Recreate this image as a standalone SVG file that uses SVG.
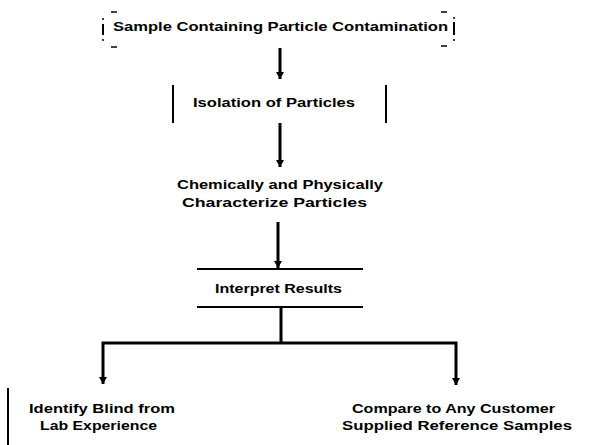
<svg xmlns="http://www.w3.org/2000/svg" width="594" height="445" viewBox="0 0 594 445">
<style>
  text { font-family: "Liberation Sans", Arial, sans-serif; font-weight: bold; fill: #000; text-anchor: middle; }
  .t13 { font-size: 13px; }
  .t12 { font-size: 12px; }
  .edge { stroke: #000; stroke-width: 3; fill: none; }
  .bar { stroke: #000; stroke-width: 2; fill: none; }
  .dash { stroke: #000; stroke-width: 1.5; fill: none; }
</style>
<defs>
  <marker id="ah" markerUnits="userSpaceOnUse" markerWidth="10" markerHeight="10" refX="9" refY="5" orient="auto-start-reverse" viewBox="0 0 10 10">
    <path d="M2,1 L9,5 L2,9 Z" fill="#000"/>
  </marker>
</defs>
<rect width="594" height="445" fill="#fff"/>

<g id="node-sample">
  <line class="bar" x1="103" y1="24" x2="103" y2="35"/>
  <circle cx="103" cy="19" r="1" fill="#000"/>
  <circle cx="103" cy="40" r="1" fill="#000"/>
  <line class="dash" x1="111" y1="12" x2="117" y2="12"/>
  <line class="dash" x1="111" y1="47" x2="117" y2="47"/>
  <line class="bar" x1="454" y1="22" x2="454" y2="35"/>
  <circle cx="454" cy="18" r="1" fill="#000"/>
  <circle cx="454" cy="40" r="1" fill="#000"/>
  <line class="dash" x1="441" y1="12" x2="447" y2="12"/>
  <line class="dash" x1="441" y1="46" x2="447" y2="46"/>
  <text class="t13" x="280.5" y="31" textLength="335" lengthAdjust="spacingAndGlyphs">Sample Containing Particle Contamination</text>
</g>

<g id="node-isolation">
  <line class="bar" x1="173" y1="85" x2="173" y2="123"/>
  <line class="bar" x1="386" y1="85" x2="386" y2="123"/>
  <text class="t12" x="274" y="107" textLength="162" lengthAdjust="spacingAndGlyphs">Isolation of Particles</text>
</g>

<g id="node-characterize">
  <text class="t12" x="280" y="189" textLength="206" lengthAdjust="spacingAndGlyphs">Chemically and Physically</text>
  <text class="t12" x="274.5" y="207" textLength="185" lengthAdjust="spacingAndGlyphs">Characterize Particles</text>
</g>

<g id="node-interpret">
  <line class="bar" x1="197" y1="269" x2="363" y2="269"/>
  <line class="bar" x1="197" y1="307" x2="363" y2="307"/>
  <text class="t12" x="278.5" y="293" textLength="127" lengthAdjust="spacingAndGlyphs">Interpret Results</text>
</g>

<g id="node-identify">
  <line class="bar" x1="8" y1="388" x2="8" y2="445"/>
  <text class="t12" x="102" y="413" textLength="146" lengthAdjust="spacingAndGlyphs">Identify Blind from</text>
  <text class="t12" x="98.5" y="430" textLength="117" lengthAdjust="spacingAndGlyphs">Lab Experience</text>
</g>

<g id="node-compare">
  <text class="t12" x="453.5" y="413" textLength="203" lengthAdjust="spacingAndGlyphs">Compare to Any Customer</text>
  <text class="t12" x="457" y="430" textLength="230" lengthAdjust="spacingAndGlyphs">Supplied Reference Samples</text>
</g>

<g id="connectors">
  <line class="edge" x1="280" y1="48" x2="280" y2="79" marker-end="url(#ah)"/>
  <line class="edge" x1="280" y1="123" x2="280" y2="167" marker-end="url(#ah)"/>
  <line class="edge" x1="278" y1="222" x2="278" y2="268" marker-end="url(#ah)"/>
  <line class="edge" x1="281" y1="307" x2="281" y2="343"/>
  <path class="edge" d="M103,384 V343 H456 V385" marker-start="url(#ah)" marker-end="url(#ah)"/>
</g>
</svg>
